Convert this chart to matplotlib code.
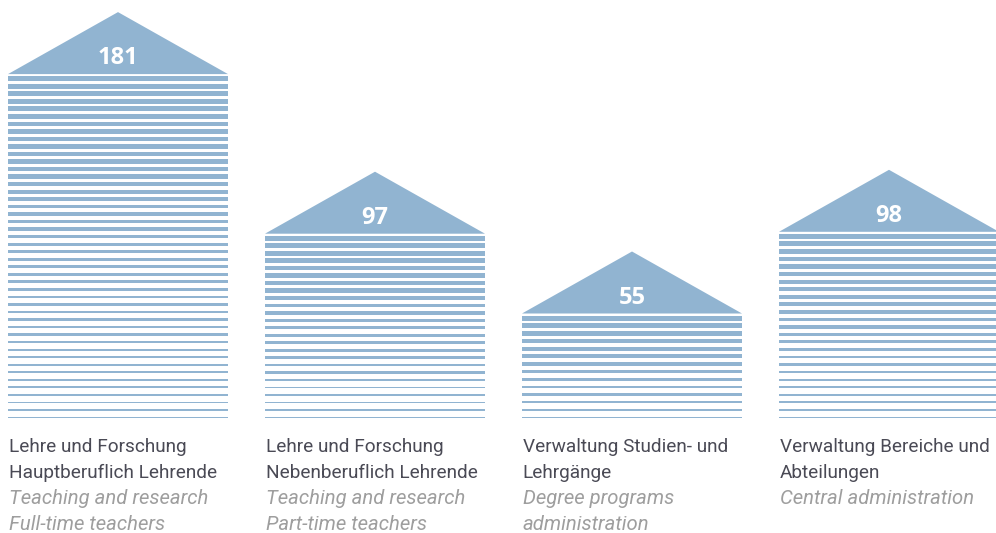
import numpy as np
import matplotlib.pyplot as plt
from matplotlib import transforms
from matplotlib.patches import Polygon

# data
werte = [181, 97, 55, 98]
titel_de = [
    ["Lehre und Forschung", "Hauptberuflich Lehrende"],
    ["Lehre und Forschung", "Nebenberuflich Lehrende"],
    ["Verwaltung Studien- und", "Lehrgänge"],
    ["Verwaltung Bereiche und", "Abteilungen"],
]
titel_en = [
    ["Teaching and research", "Full-time teachers"],
    ["Teaching and research", "Part-time teachers"],
    ["Degree programs", "administration"],
    ["Central administration"],
]

FARBE = "#91B4D1"
TEXT_DE = "#4A4A55"
TEXT_EN = "#9E9E9E"

B, H = 996, 533
PX = 1.9          # pixel pro einheit
BREITE = 0.856
DACH = 62 / PX    # dachhoehe
SCHRITT = 7.45 / PX

fig = plt.figure(figsize=(B / 100, H / 100), dpi=100)
ax = fig.add_axes([0, 115 / H, 1, 418 / H])
ax.set_xlim(-118 / 257, (B - 118) / 257)
ax.set_ylim(0, 418 / PX)
ax.axis("off")

for i, v in enumerate(werte):
    links = i - BREITE / 2
    # streifen: oben dick, unten duenn
    n = int(round(v / SCHRITT))
    f = np.linspace(0, 1, n)
    dicken = (5.2 - 3.9 * f) / PX
    tops = np.linspace(v - 2 / PX, dicken[-1], n)
    ax.bar([i] * n, dicken, bottom=tops - dicken, width=BREITE, color=FARBE,
           linewidth=0)
    # dach
    ax.add_patch(Polygon([(links, v), (i + BREITE / 2, v), (i, v + DACH)],
                         closed=True, color=FARBE, linewidth=0))
    ax.text(i, v + 16 / PX, str(v), ha="center", va="center", color="white",
            fontsize=17, fontweight="bold", family="Open Sans")

trans = transforms.blended_transform_factory(ax.transData, fig.transFigure)
basis = [452, 478, 504.5, 530.5]
for i in range(len(werte)):
    links = i - BREITE / 2 + 0.002
    zeilen = [(t, TEXT_DE, "normal", 13.7) for t in titel_de[i]] + \
             [(t, TEXT_EN, "italic", 14.6) for t in titel_en[i]]
    for j, (t, c, st, gr) in enumerate(zeilen):
        ax.text(links, 1 - basis[j] / H, t, transform=trans, ha="left",
                va="baseline", color=c, fontsize=gr, style=st,
                family="Roboto", clip_on=False)

plt.savefig("out.png", dpi=100)
